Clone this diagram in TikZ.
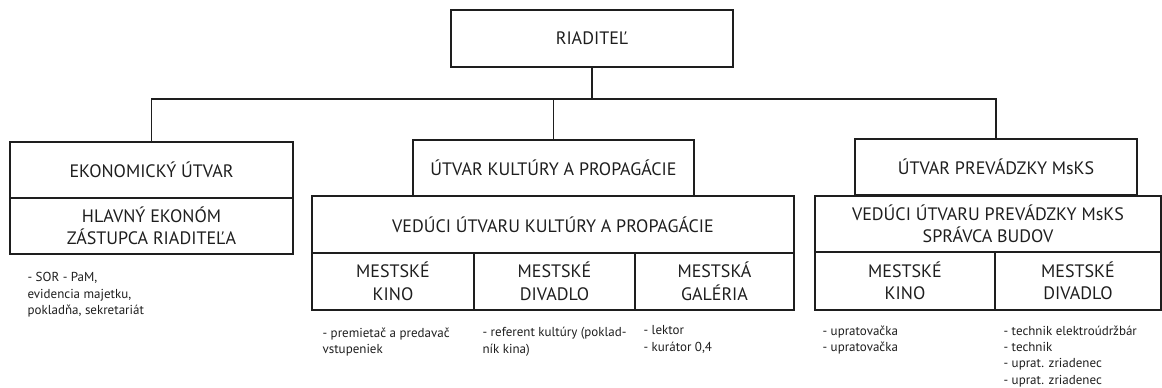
\documentclass[tikz,border=0pt]{standalone}
\usepackage{fontspec}
\setmainfont{PT Sans}
\usetikzlibrary{positioning}
\definecolor{ink}{RGB}{30,30,30}
\newcommand{\unitfont}{\fontsize{18}{22.5}\selectfont}
\newcommand{\stafffont}{\fontsize{13}{16.3}\selectfont}

\begin{document}
\begin{tikzpicture}[x=1pt,y=-1pt,color=ink,line width=1.2pt]
   \tikzstyle{unit}=[draw,rectangle,minimum height=56pt,inner sep=2pt,
                     outer sep=0pt,align=center,font=\unitfont]
   \tikzstyle{staff}=[anchor=north west,inner sep=0pt,align=left,font=\stafffont]

   \useasboundingbox (0,0) rectangle (1162,388);

   \node[unit,minimum width=282pt,minimum height=57pt] (riad) at (592,38.5) {RIADITEĽ};

   \node[unit,minimum width=283pt] (ekon)   at (151.5,170) {EKONOMICKÝ ÚTVAR};
   \node[unit,minimum width=283pt] (hlekon) [below=0pt of ekon] {HLAVNÝ EKONÓM\\ZÁSTUPCA RIADITEĽA};

   \node[unit,minimum width=281pt] (kult) at (553.5,168) {ÚTVAR KULTÚRY A PROPAGÁCIE};
   \node[unit,minimum width=482pt,minimum height=57pt] (vedkult) at (553,224.5)
        {VEDÚCI ÚTVARU KULTÚRY A PROPAGÁCIE};
   \node[unit,minimum width=162pt,minimum height=57pt,anchor=north west] (kkino)
        at (vedkult.south west) {MESTSKÉ\\KINO};
   \node[unit,minimum width=161pt,minimum height=57pt] (kdiv) [right=0pt of kkino] {MESTSKÉ\\DIVADLO};
   \node[unit,minimum width=159pt,minimum height=57pt] (kgal) [right=0pt of kdiv]  {MESTSKÁ\\GALÉRIA};

   \node[unit,minimum width=282pt] (prev) at (996,167) {ÚTVAR PREVÁDZKY MsKS};
   \node[unit,minimum width=346pt] (vedprev) at (988,224)
        {VEDÚCI ÚTVARU PREVÁDZKY MsKS\\SPRÁVCA BUDOV};
   \node[unit,minimum width=180pt,minimum height=58pt,anchor=north west] (pkino)
        at (vedprev.south west) {MESTSKÉ\\KINO};
   \node[unit,minimum width=166pt,minimum height=58pt] (pdiv) [right=0pt of pkino] {MESTSKÉ\\DIVADLO};

   \coordinate (bus) at (0,99);
   \draw (riad.south) -- (riad.south |- bus);
   \draw (ekon.north) -- (ekon.north |- bus) -- (prev.north |- bus) -- (prev.north);
   \draw (kult.north) -- (kult.north |- bus);

   \node[staff] (sor)    at (27,272)   {- SOR - PaM,\\evidencia majetku,\\pokladňa, sekretariát};
   \node[staff] (premk)  at (322,327)  {- premietač a predavač\\vstupeniek};
   \node[staff] (refk)   at (482,327)  {- referent kultúry (poklad-\\ník kina)};
   \node[staff] (lekg)   at (643,325)  {- lektor\\- kurátor 0,4};
   \node[staff] (uprk)   at (822,325)  {- upratovačka\\- upratovačka};
   \node[staff] (techd)  at (1003,325) {- technik elektroúdržbár\\- technik\\- uprat. zriadenec\\- uprat. zriadenec};
\end{tikzpicture}
\end{document}
